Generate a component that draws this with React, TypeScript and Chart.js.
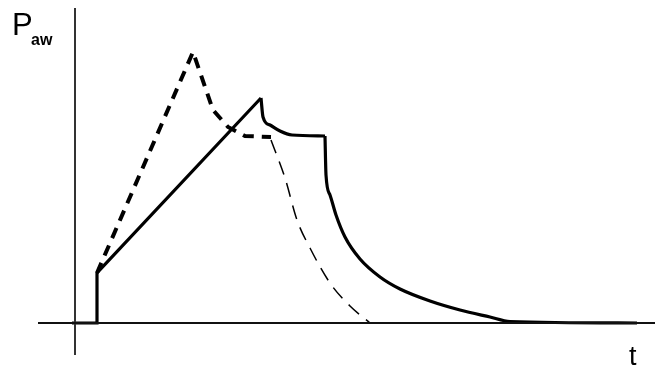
import React, { useEffect, useRef } from "react";
import { Chart, registerables } from "chart.js";

Chart.register(...registerables);

// Solid curve: rise phase
const riseT = [-0.3, 2.2, 2.2, 18.6];
const riseP = [0, 0, 5.0, 22.5];
// Solid curve: relaxation to plateau
const relaxT = [18.6, 18.8, 19.5, 20.5, 21.7, 25.0];
const relaxP = [22.5, 20.6, 19.8, 19.2, 18.8, 18.7];
// Solid curve: expiratory decay
const decayT = [25.0, 25.1, 25.5, 26.1, 27.0, 28.5, 30.5, 32.5, 35.5, 38.5, 41.5, 43.5, 56.2];
const decayP = [18.7, 14.8, 12.8, 10.8, 8.6, 6.4, 4.6, 3.4, 2.2, 1.3, 0.6, 0.15, 0];

// Thick dashed curve
const dashT = [2.2, 11.8, 13.8, 15.3, 17.0, 19.6];
const dashP = [5.0, 27.1, 21.3, 19.6, 18.7, 18.6];

// Thin dashed decay
const thinT = [19.6, 21.0, 22.2, 23.5, 25.5, 27.5, 29.5];
const thinP = [18.3, 14.5, 10.3, 7.5, 4.0, 1.7, 0];

// Axes
const axisVT = [0, 0];
const axisVP = [-3.2, 31.5];
const axisHT = [-3.7, 58];
const axisHP = [0, 0];

const yLabel = "P";
const ySub = "aw";
const xLabel = "t";

const pts = (xs: number[], ys: number[]) => xs.map((x, i) => ({ x, y: ys[i] }));

export default function App() {
  const ref = useRef<HTMLCanvasElement | null>(null);
  useEffect(() => {
    document.body.style.margin = "0";
    const labels = {
      id: "labels",
      afterDraw(chart: any) {
        const ctx = chart.ctx;
        const xs = chart.scales.x;
        const ys = chart.scales.y;
        ctx.save();
        ctx.fillStyle = "#000";
        ctx.textBaseline = "alphabetic";
        ctx.font = '31px "Liberation Sans", Arial, sans-serif';
        ctx.fillText(yLabel, xs.getPixelForValue(-6.3), ys.getPixelForValue(28.8));
        ctx.font = 'bold 16px "Liberation Sans", Arial, sans-serif';
        ctx.fillText(ySub, xs.getPixelForValue(-4.4), ys.getPixelForValue(27.8));
        ctx.font = '27px "Liberation Sans", Arial, sans-serif';
        ctx.fillText(xLabel, xs.getPixelForValue(55.4), ys.getPixelForValue(-4.2));
        ctx.restore();
      },
    };
    const solid = { borderColor: "#000", borderWidth: 3.2, showLine: true, pointRadius: 0 };
    const chart = new Chart(ref.current!, {
      type: "scatter",
      data: {
        datasets: [
          { data: pts(axisHT, axisHP), borderColor: "#111", borderWidth: 2, showLine: true, pointRadius: 0 },
          { data: pts(axisVT, axisVP), borderColor: "#333", borderWidth: 2, showLine: true, pointRadius: 0 },
          { data: pts(thinT, thinP), borderColor: "#000", borderWidth: 1.5, borderDash: [14, 9], showLine: true, pointRadius: 0, cubicInterpolationMode: "monotone" },
          { data: pts(dashT, dashP), borderColor: "#000", borderWidth: 4, borderDash: [11, 8], showLine: true, pointRadius: 0 },
          { data: pts(riseT, riseP), ...solid },
          { data: pts(relaxT, relaxP), ...solid, cubicInterpolationMode: "monotone" },
          { data: pts(decayT, decayP), ...solid, cubicInterpolationMode: "monotone" },
        ],
      },
      options: {
        animation: false,
        responsive: true,
        maintainAspectRatio: false,
        layout: { padding: 0 },
        plugins: { legend: { display: false }, tooltip: { enabled: false } },
        scales: {
          x: { type: "linear", min: -7.5, max: 58.1, display: false },
          y: { type: "linear", min: -4.4, max: 32.3, display: false },
        },
      },
      plugins: [labels],
    });
    return () => chart.destroy();
  }, []);
  return (
    <div style={{ width: 656, height: 367, position: "relative" }}>
      <canvas ref={ref} />
    </div>
  );
}
